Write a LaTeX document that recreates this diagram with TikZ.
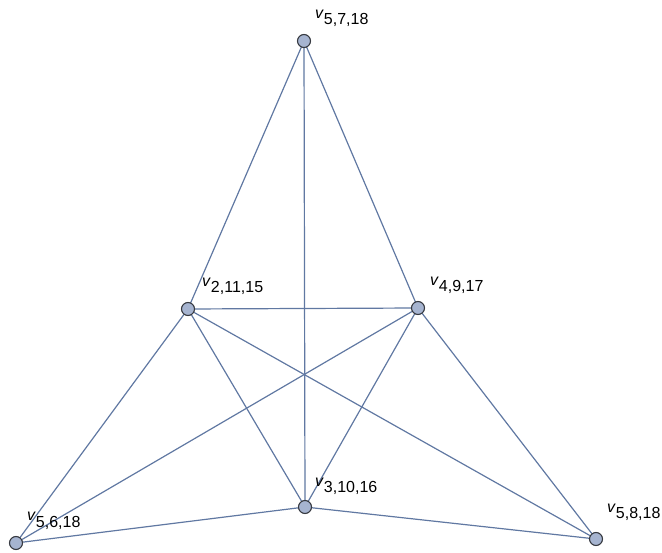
\documentclass[tikz,border=0pt]{standalone}
\usepackage{fontspec}
\setmainfont{Liberation Sans}
\usetikzlibrary{backgrounds}
\definecolor{edgec}{RGB}{96,120,162}
\definecolor{vfill}{RGB}{166,180,208}
\definecolor{vdraw}{RGB}{55,58,65}
\tikzset{
  vert/.style={circle,draw=vdraw,fill=vfill,line width=1.1pt,minimum size=13pt,inner sep=0pt},
  edge/.style={draw=edgec,line width=1.2pt},
  lab/.style={anchor=base west,inner sep=0pt,font=\fontsize{16}{16}\selectfont}
}
\newcommand{\vlab}[1]{\textit{v}\raisebox{-6pt}{#1}}
\begin{document}
\begin{tikzpicture}[x=1pt,y=-1pt]
\useasboundingbox (0,0) rectangle (662,553);
\node[vert] (na) at (304,41) {};
\node[vert] (nb) at (188,309) {};
\node[vert] (nc) at (418,308) {};
\node[vert] (nd) at (305,507) {};
\node[vert] (ne) at (16,543) {};
\node[vert] (nf) at (596,539) {};
\begin{pgfonlayer}{background}
\draw[edge] (na.center) -- (nb.center);
\draw[edge] (na.center) -- (nc.center);
\draw[edge] (na.center) -- (nd.center);
\draw[edge] (nb.center) -- (nc.center);
\draw[edge] (nb.center) -- (ne.center);
\draw[edge] (nb.center) -- (nd.center);
\draw[edge] (nb.center) -- (nf.center);
\draw[edge] (nc.center) -- (ne.center);
\draw[edge] (nc.center) -- (nd.center);
\draw[edge] (nc.center) -- (nf.center);
\draw[edge] (ne.center) -- (nd.center);
\draw[edge] (nd.center) -- (nf.center);
\end{pgfonlayer}
\node[lab] (la) at (315,19) {\vlab{5,7,18}};
\node[lab] (lb) at (202,287) {\vlab{2,11,15}};
\node[lab] (lc) at (430,286) {\vlab{4,9,17}};
\node[lab] (ld) at (315,486) {\vlab{3,10,16}};
\node[lab] (le) at (27,521) {\vlab{5,6,18}};
\node[lab] (lf) at (607,512) {\vlab{5,8,18}};
\end{tikzpicture}
\end{document}
